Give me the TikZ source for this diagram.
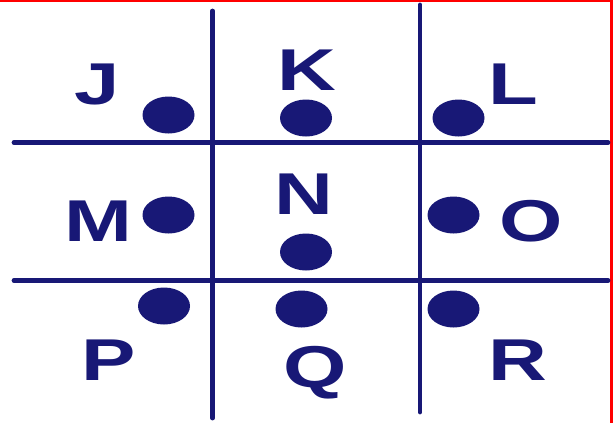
\documentclass[tikz,border=0pt]{standalone}
\usepackage{fontspec}
\setmainfont{Liberation Sans}
\definecolor{navy}{RGB}{24,24,118}
\begin{document}
\begin{tikzpicture}[x=1pt,y=-1pt,
  gridline/.style={draw=navy,line width=4.8pt,line cap=round},
  letter/.style={text=navy,font=\fontsize{59}{59}\selectfont\bfseries,inner sep=0pt,anchor=base}
]
\useasboundingbox (0,0) rectangle (615,423);
\fill[white] (0,0) rectangle (615,423);
\fill[red] (0,0) rectangle (612,2);
\fill[red] (610,0) rectangle (613,423);
% grid lines
\coordinate (v1t) at (212.5,11);
\coordinate (v1b) at (212.5,418);
\coordinate (v2t) at (420,5);
\coordinate (v2b) at (420,412);
\coordinate (h1l) at (14,142.5);
\coordinate (h1r) at (608,142.5);
\coordinate (h2l) at (14,280.5);
\coordinate (h2r) at (608,280.5);
\draw[gridline] (v1t) -- (v1b);
\draw[gridline] (v2t) -- (v2b);
\draw[gridline] (h1l) -- (h1r);
\draw[gridline] (h2l) -- (h2r);
% dots
\fill[navy] (168.5,115) ellipse (26pt and 18.5pt);
\fill[navy] (306,118) ellipse (26pt and 18.5pt);
\fill[navy] (458.5,118) ellipse (26pt and 18.5pt);
\fill[navy] (168.5,215) ellipse (26pt and 18.5pt);
\fill[navy] (453.5,215) ellipse (26pt and 18.5pt);
\fill[navy] (306,252) ellipse (26pt and 18.5pt);
\fill[navy] (164,306) ellipse (26pt and 18.5pt);
\fill[navy] (301.5,309) ellipse (26pt and 18.5pt);
\fill[navy] (453.5,309) ellipse (26pt and 18.5pt);
% letters
\node[letter] (J) at (97,104) {\scalebox{1.38}[1]{J}};
\node[letter] (K) at (307,90.5) {\scalebox{1.38}[1]{K}};
\node[letter] (L) at (513.5,104) {\scalebox{1.38}[1]{L}};
\node[letter] (M) at (98,241.5) {\scalebox{1.38}[1]{M}};
\node[letter] (N) at (304,214) {\scalebox{1.38}[1]{N}};
\node[letter] (O) at (531,241.5) {\scalebox{1.38}[1]{O}};
\node[letter] (P) at (109,380) {\scalebox{1.38}[1]{P}};
\node[letter] (Q) at (315.5,387) {\scalebox{1.38}[1]{Q}};
\node[letter] (R) at (518,380) {\scalebox{1.38}[1]{R}};
\end{tikzpicture}
\end{document}
